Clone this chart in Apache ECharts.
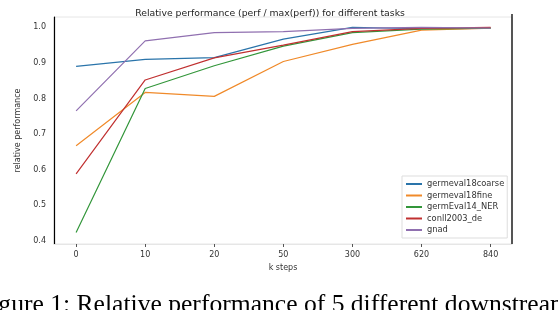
<!DOCTYPE html>
<html><head><meta charset="utf-8">
<script src="https://cdn.jsdelivr.net/npm/echarts@6/dist/echarts.min.js"></script>
<style>html,body{margin:0;padding:0;background:#fff;}#c{width:558px;height:310px;}</style>
</head><body><div id="c"></div>
<script>
const categories = ['0','10','20','50','300','620','840'];
const yTicks = [0.4,0.5,0.6,0.7,0.8,0.9,1.0];
const seriesNames = ['germeval18coarse','germeval18fine','germEval14_NER','conll2003_de','gnad'];
const germeval18coarse = [0.890,0.910,0.915,0.967,1.000,0.996,0.997];
const germeval18fine   = [0.667,0.817,0.806,0.904,0.952,0.992,0.998];
const germEval14_NER   = [0.423,0.828,0.892,0.947,0.985,0.995,0.998];
const conll2003_de     = [0.588,0.852,0.914,0.950,0.988,0.997,1.000];
const gnad             = [0.765,0.962,0.985,0.988,0.997,1.000,0.998];
const colors = ['#2a74aa','#f08a2a','#32963a','#c03030','#9070b0'];
const allData = [germeval18coarse,germeval18fine,germEval14_NER,conll2003_de,gnad];

const chart = echarts.init(document.getElementById('c'), null, {renderer:'canvas'});
const font = 'DejaVu Sans';
const series = allData.map((d,i)=>({
  name: seriesNames[i], type:'line', data: d.map((v,j)=>[j,v]),
  symbol:'none', lineStyle:{width:1.2, color:colors[i]}, itemStyle:{color:colors[i]}, z: 2+i
}));
chart.setOption({
  animation:false,
  title:[{text:'Relative performance (perf / max(perf)) for different tasks', left:265, top:4, textAlign:'center',
    textStyle:{fontFamily:font, fontSize:9.3, fontWeight:'normal', color:'#222'}},
    {text:'Figure 1: Relative performance of 5 different downstream', left:-28, top:287,
    textStyle:{fontFamily:'Liberation Serif', fontSize:25.6, fontWeight:'normal', color:'#000'}}],
  grid:{left:54, right:46, top:17, bottom:66, show:true, borderColor:'#e6e6e6', borderWidth:1},
  legend:{data:seriesNames, orient:'vertical', left:402, top:176, itemWidth:16, itemHeight:2, itemGap:3.5,
    icon:'rect', backgroundColor:'#fff', borderColor:'#ddd', borderWidth:1, padding:[4,3,4,4],
    textStyle:{fontFamily:font, fontSize:8.3, color:'#333'}},
  xAxis:{type:'value', min:-0.32, max:6.31, name:'k steps', nameLocation:'middle', nameGap:19,
    nameTextStyle:{fontFamily:font, fontSize:8, color:'#333'},
    axisLine:{show:true, onZero:false, lineStyle:{color:'#e6e6e6'}}, splitLine:{show:false},
    axisTick:{show:true, customValues:[0,1,2,3,4,5,6], length:3, lineStyle:{color:'#555'}},
    axisLabel:{customValues:[0,1,2,3,4,5,6], formatter:v=>categories[Math.round(v)], fontFamily:font, fontSize:8, color:'#333', margin:7}},
  yAxis:{type:'value', min:0.391, max:1.029, name:'relative performance', nameLocation:'middle', nameGap:24,
    nameTextStyle:{fontFamily:font, fontSize:8, color:'#333'},
    axisLine:{show:true, onZero:false, lineStyle:{color:'#000', width:1.2}}, splitLine:{show:false},
    axisTick:{show:false, customValues:yTicks},
    axisLabel:{customValues:yTicks, formatter:v=>v.toFixed(1), fontFamily:font, fontSize:8, color:'#333', margin:8}},
  graphic:[{type:'line', shape:{x1:512, y1:14, x2:512, y2:244}, style:{stroke:'#000', lineWidth:1.3}}],
  series: series
});
</script></body></html>
